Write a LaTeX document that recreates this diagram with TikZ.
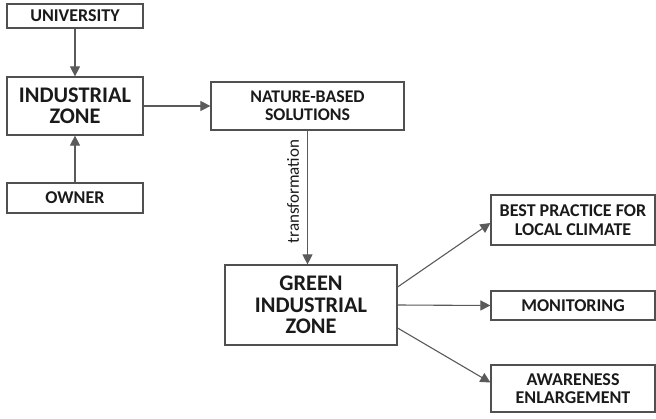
\documentclass[tikz,border=0pt]{standalone}
\usepackage{fontspec}
\setmainfont{Carlito}
\usetikzlibrary{arrows.meta,calc}
\definecolor{boxc}{HTML}{505050}
\definecolor{linec}{HTML}{5A5A5A}
\definecolor{txt}{HTML}{1A1A1A}
\begin{document}
\begin{tikzpicture}[x=1pt,y=-1pt,
  box/.style={draw=boxc,line width=1.2pt,fill=white,inner sep=0pt,align=center,text=txt,font=\bfseries},
  conn/.style={draw=linec,line width=1.1pt,-{Triangle[length=10pt,width=10pt]}},
  sz15/.style={font=\fontsize{18}{18.5}\selectfont\bfseries},
  sz17/.style={font=\fontsize{17.8}{18}\selectfont\bfseries},
  sz21/.style={font=\fontsize{22.3}{21.5}\selectfont\bfseries}]
\useasboundingbox[fill=white] (0,0) rectangle (656,418);
\node[box,sz15,minimum width=136pt,minimum height=24pt] (univ) at (75,16) {UNIVERSITY};
\node[box,sz21,minimum width=136pt,minimum height=58pt] (ind) at (75,106) {INDUSTRIAL\\ZONE};
\node[box,sz15,minimum width=136pt,minimum height=30pt] (owner) at (75,198) {OWNER};
\node[box,sz17,minimum width=193pt,minimum height=48pt] (nbs) at (307.5,106) {NATURE-BASED\\SOLUTIONS};
\node[box,sz21,minimum width=172pt,minimum height=80pt] (green) at (311,305) {GREEN\\INDUSTRIAL\\ZONE};
\node[box,sz15,minimum width=164pt,minimum height=50pt] (best) at (573,220) {BEST PRACTICE FOR\\LOCAL CLIMATE};
\node[box,sz15,minimum width=164pt,minimum height=29pt] (mon) at (573,305.5) {MONITORING};
\node[box,sz15,minimum width=164pt,minimum height=47pt] (aware) at (573,388.5) {AWARENESS\\ENLARGEMENT};
\draw[conn] (nbs.south) -- (nbs.south |- green.north);
\node[rotate=90,inner sep=0pt,font=\fontsize{17}{17}\selectfont,text=txt] (tlab)
  at ($(nbs.south)!0.5!(nbs.south |- green.north)+(-14.5,-6)$) {transformation};
\draw[conn] (univ.south) -- (ind.north);
\draw[conn] (owner.north) -- (ind.south);
\draw[conn] (ind.east) -- (nbs.west);
\coordinate (g1) at ($(green.east)+(0,-18)$);
\coordinate (g3) at ($(green.east)+(0,23)$);
\coordinate (a3) at ($(aware.west)+(0,-6)$);
\draw[conn] (g1) -- ($(best.west)+(0,3)$);
\draw[conn] (green.east) -- (mon.west);
\draw[conn] (g3) -- (a3);
\end{tikzpicture}
\end{document}
